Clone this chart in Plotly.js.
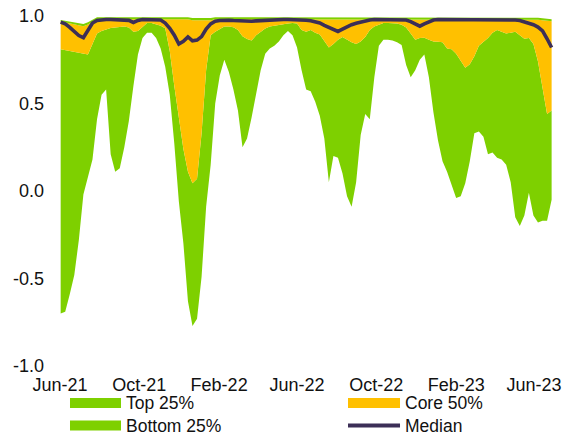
<!DOCTYPE html>
<html>
<head>
<meta charset="utf-8">
<script src="https://cdn.plot.ly/plotly-3.0.1.min.js"></script>
<style>
  html, body { margin: 0; padding: 0; background: #ffffff; }
  #chart { width: 563px; height: 437px; }
</style>
</head>
<body>
<div id="chart"></div>
<script>
// ---- Data ----
const dates = [
  "2021-06-02","2021-06-09","2021-06-16","2021-06-23","2021-06-30","2021-07-07","2021-07-14","2021-07-21","2021-07-28","2021-08-04",
  "2021-08-11","2021-08-18","2021-08-25","2021-09-01","2021-09-08","2021-09-15","2021-09-22","2021-09-29","2021-10-06","2021-10-13",
  "2021-10-20","2021-10-27","2021-11-03","2021-11-10","2021-11-17","2021-11-24","2021-12-01","2021-12-08","2021-12-15","2021-12-22",
  "2021-12-29","2022-01-05","2022-01-12","2022-01-19","2022-01-26","2022-02-02","2022-02-09","2022-02-16","2022-02-23","2022-03-02",
  "2022-03-09","2022-03-16","2022-03-23","2022-03-30","2022-04-06","2022-04-13","2022-04-20","2022-04-27","2022-05-04","2022-05-11",
  "2022-05-18","2022-05-25","2022-06-01","2022-06-08","2022-06-15","2022-06-22","2022-06-29","2022-07-06","2022-07-13","2022-07-20",
  "2022-07-27","2022-08-03","2022-08-10","2022-08-17","2022-08-24","2022-08-31","2022-09-07","2022-09-14","2022-09-21","2022-09-28",
  "2022-10-05","2022-10-12","2022-10-19","2022-10-26","2022-11-02","2022-11-09","2022-11-16","2022-11-23","2022-11-30","2022-12-07",
  "2022-12-14","2022-12-21","2022-12-28","2023-01-04","2023-01-11","2023-01-18","2023-01-25","2023-02-01","2023-02-08","2023-02-15",
  "2023-02-22","2023-03-01","2023-03-08","2023-03-15","2023-03-22","2023-03-29","2023-04-05","2023-04-12","2023-04-19","2023-04-26",
  "2023-05-03","2023-05-10","2023-05-17","2023-05-24","2023-05-31","2023-06-07","2023-06-14","2023-06-21","2023-06-28"
];

const minVals = [
  -0.70,-0.69,-0.59,-0.48,-0.28,-0.02,0.08,0.18,0.41,0.55,
  0.58,0.21,0.11,0.13,0.25,0.40,0.60,0.78,0.875,0.905,
  0.905,0.875,0.815,0.71,0.55,0.27,-0.06,-0.30,-0.63,-0.772,
  -0.73,-0.49,-0.09,0.15,0.50,0.66,0.75,0.68,0.58,0.46,
  0.25,0.30,0.42,0.55,0.69,0.785,0.815,0.83,0.855,0.89,
  0.915,0.89,0.82,0.69,0.58,0.57,0.51,0.43,0.30,0.05,
  0.20,0.19,0.10,-0.03,-0.09,0.05,0.32,0.44,0.41,0.65,
  0.83,0.865,0.865,0.86,0.85,0.835,0.72,0.65,0.69,0.75,
  0.78,0.65,0.45,0.29,0.17,0.11,0.04,-0.04,-0.03,0.045,
  0.17,0.33,0.34,0.31,0.21,0.22,0.19,0.18,0.15,0.05,
  -0.15,-0.20,-0.14,-0.01,-0.14,-0.18,-0.17,-0.17,-0.05
];

const q25Vals = [
  0.81,0.805,0.80,0.795,0.79,0.785,0.78,0.84,0.90,0.915,
  0.925,0.932,0.935,0.938,0.94,0.935,0.91,0.915,0.94,0.96,
  0.96,0.953,0.945,0.93,0.80,0.60,0.42,0.24,0.11,0.045,
  0.07,0.33,0.69,0.89,0.91,0.925,0.94,0.94,0.936,0.92,
  0.885,0.868,0.86,0.89,0.91,0.928,0.94,0.945,0.948,0.952,
  0.957,0.96,0.957,0.92,0.91,0.92,0.905,0.895,0.86,0.82,
  0.84,0.865,0.88,0.865,0.85,0.84,0.855,0.88,0.92,0.94,
  0.95,0.96,0.96,0.96,0.957,0.95,0.935,0.90,0.865,0.875,
  0.876,0.865,0.855,0.853,0.85,0.815,0.81,0.785,0.745,0.705,
  0.725,0.77,0.83,0.85,0.875,0.905,0.92,0.91,0.90,0.905,
  0.91,0.89,0.87,0.875,0.84,0.74,0.58,0.44,0.46
];

const medianVals = [
  0.965,0.955,0.935,0.91,0.888,0.876,0.915,0.96,0.975,0.98,
  0.98,0.98,0.98,0.98,0.98,0.975,0.963,0.975,0.98,0.98,
  0.98,0.979,0.977,0.96,0.93,0.89,0.84,0.855,0.88,0.858,
  0.862,0.882,0.925,0.955,0.97,0.974,0.976,0.976,0.974,0.972,
  0.97,0.969,0.97,0.972,0.974,0.976,0.977,0.978,0.98,0.98,
  0.98,0.98,0.98,0.979,0.976,0.973,0.967,0.96,0.947,0.934,
  0.921,0.912,0.925,0.94,0.95,0.958,0.966,0.972,0.977,0.98,
  0.98,0.98,0.98,0.98,0.98,0.98,0.977,0.968,0.954,0.942,
  0.955,0.968,0.977,0.98,0.98,0.98,0.98,0.98,0.98,0.98,
  0.98,0.98,0.979,0.978,0.978,0.978,0.978,0.978,0.978,0.978,
  0.977,0.974,0.967,0.96,0.95,0.937,0.915,0.87,0.82
];

const q75Vals = [
  0.968,0.962,0.956,0.950,0.945,0.942,0.952,0.968,0.982,0.982,
  0.982,0.982,0.982,0.982,0.982,0.982,0.982,0.982,0.982,0.982,
  0.982,0.982,0.982,0.982,0.982,0.982,0.982,0.982,0.982,0.976,
  0.976,0.976,0.976,0.976,0.982,0.982,0.982,0.982,0.982,0.982,
  0.982,0.982,0.982,0.982,0.982,0.982,0.982,0.982,0.982,0.982,
  0.982,0.982,0.982,0.982,0.982,0.982,0.982,0.982,0.982,0.982,
  0.982,0.982,0.982,0.982,0.982,0.982,0.982,0.982,0.982,0.982,
  0.982,0.982,0.982,0.982,0.982,0.982,0.982,0.982,0.982,0.982,
  0.982,0.982,0.982,0.982,0.982,0.982,0.982,0.982,0.982,0.982,
  0.982,0.982,0.982,0.982,0.982,0.982,0.982,0.982,0.982,0.982,
  0.982,0.982,0.982,0.982,0.982,0.979,0.976,0.973,0.970
];

const maxVals = [
  0.977,0.973,0.968,0.962,0.957,0.955,0.965,0.980,0.993,0.993,
  0.993,0.993,0.993,0.993,0.993,0.993,0.993,0.993,0.993,0.993,
  0.993,0.993,0.993,0.993,0.993,0.993,0.993,0.993,0.993,0.988,
  0.988,0.988,0.988,0.988,0.993,0.993,0.993,0.993,0.993,0.993,
  0.993,0.993,0.993,0.993,0.993,0.993,0.993,0.993,0.993,0.993,
  0.993,0.993,0.993,0.993,0.993,0.993,0.993,0.993,0.993,0.993,
  0.993,0.993,0.993,0.993,0.993,0.993,0.993,0.993,0.993,0.993,
  0.993,0.993,0.993,0.993,0.993,0.993,0.993,0.993,0.993,0.993,
  0.993,0.993,0.993,0.993,0.993,0.993,0.993,0.993,0.993,0.993,
  0.993,0.993,0.993,0.993,0.993,0.993,0.993,0.993,0.993,0.993,
  0.993,0.993,0.993,0.993,0.993,0.990,0.987,0.985,0.982
];

const tickDates = ["2021-06-01","2021-10-01","2022-02-01","2022-06-01","2022-10-01","2023-02-01","2023-06-01"];
const tickLabels = ["Jun-21","Oct-21","Feb-22","Jun-22","Oct-22","Feb-23","Jun-23"];
const yTickVals = [-1, -0.5, 0, 0.5, 1];
const yTickLabels = ["-1.0","-0.5","0.0","0.5","1.0"];
const seriesNames = ["Top 25%", "Core 50%", "Bottom 25%", "Median"];

// ---- Styles ----
const GREEN = "#7ED000";
const ORANGE = "#FFC000";
const MEDIAN = "#3C2F57";
const FONT = "Liberation Sans, Arial, sans-serif";

const traces = [
  { x: dates, y: minVals, type: "scatter", mode: "lines", line: { width: 0, color: GREEN },
    hoverinfo: "skip", showlegend: false },
  { x: dates, y: q25Vals, type: "scatter", mode: "lines", line: { width: 0, color: GREEN },
    fill: "tonexty", fillcolor: GREEN, name: seriesNames[2], showlegend: false },
  { x: dates, y: q75Vals, type: "scatter", mode: "lines", line: { width: 0, color: ORANGE },
    fill: "tonexty", fillcolor: ORANGE, name: seriesNames[1], showlegend: false },
  { x: dates, y: maxVals, type: "scatter", mode: "lines", line: { width: 0, color: GREEN },
    fill: "tonexty", fillcolor: GREEN, name: seriesNames[0], showlegend: false },
  { x: dates, y: medianVals, type: "scatter", mode: "lines", line: { width: 3.6, color: MEDIAN },
    name: seriesNames[3], showlegend: false }
];

// Legend drawn as swatches + text (paper coordinates)
const legendItems = [
  { name: seriesNames[0], kind: "rect", color: GREEN,  x0: 0.0396, x1: 0.1406, tx: 0.1485, y: -0.1057 },
  { name: seriesNames[1], kind: "rect", color: ORANGE, x0: 0.5901, x1: 0.6931, tx: 0.701,  y: -0.1057 },
  { name: seriesNames[2], kind: "rect", color: GREEN,  x0: 0.0396, x1: 0.1406, tx: 0.1485, y: -0.1700 },
  { name: seriesNames[3], kind: "line", color: MEDIAN, x0: 0.5901, x1: 0.6931, tx: 0.701,  y: -0.1700 }
];
const shapes = [];
const annotations = [];
legendItems.forEach(it => {
  if (it.kind === "rect") {
    shapes.push({ type: "rect", xref: "paper", yref: "paper", x0: it.x0, x1: it.x1,
      y0: it.y - 0.0143, y1: it.y + 0.0143, fillcolor: it.color, line: { width: 0 } });
  } else {
    shapes.push({ type: "line", xref: "paper", yref: "paper", x0: it.x0, x1: it.x1,
      y0: it.y, y1: it.y, line: { color: it.color, width: 4 } });
  }
  annotations.push({ xref: "paper", yref: "paper", x: it.tx, y: it.y, xanchor: "left", yanchor: "middle",
    text: it.name, showarrow: false, borderpad: 0,
    font: { family: FONT, size: 17.5, color: "#111111" } });
});

const layout = {
  width: 563, height: 437,
  margin: { l: 50, r: 8, t: 16, b: 71, pad: 0 },
  paper_bgcolor: "#ffffff", plot_bgcolor: "#ffffff",
  showlegend: false,
  font: { family: FONT, size: 18, color: "#111111" },
  xaxis: {
    type: "date",
    range: ["2021-05-16 14:00", "2023-07-03 05:00"],
    tickvals: tickDates, ticktext: tickLabels,
    showgrid: false, zeroline: false, showline: false, ticks: "",
    ticklabelstandoff: 6,
    tickfont: { family: FONT, size: 18, color: "#111111" }
  },
  yaxis: {
    range: [-1, 1],
    tickvals: yTickVals, ticktext: yTickLabels,
    showgrid: false, zeroline: false, showline: false, ticks: "",
    ticklabelstandoff: 5,
    tickfont: { family: FONT, size: 18, color: "#111111" }
  },
  shapes: shapes,
  annotations: annotations
};

Plotly.newPlot("chart", traces, layout, { staticPlot: true, displayModeBar: false });
</script>
</body>
</html>
